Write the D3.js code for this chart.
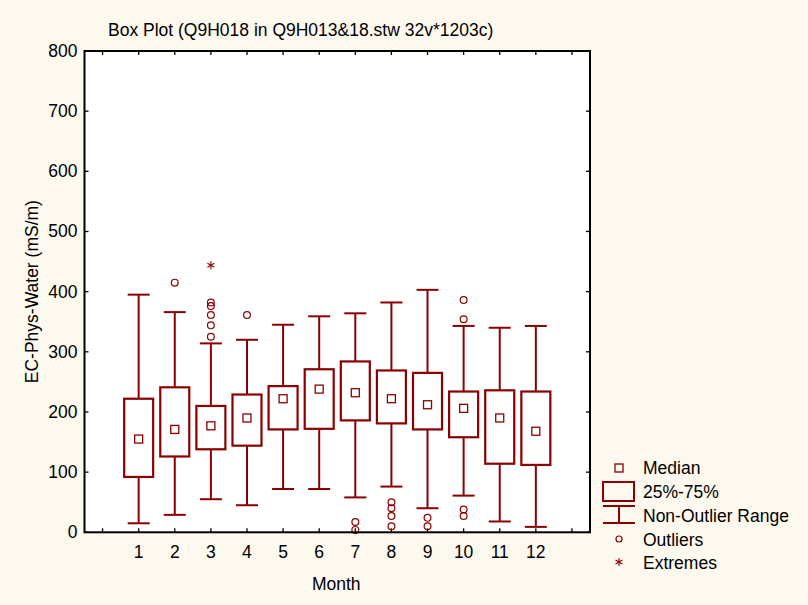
<!DOCTYPE html>
<html>
<head>
<meta charset="utf-8">
<script src="https://cdn.jsdelivr.net/npm/d3@7"></script>
<style>
  body { margin: 0; background: #fdf9ef; }
  svg { display: block; font-family: Arial, "Liberation Sans", sans-serif; }
</style>
</head>
<body>
<div class="content"></div>
<script>
// values
var months    = [1, 2, 3, 4, 5, 6, 7, 8, 9, 10, 11, 12];
var medians   = [155, 171, 177, 190, 222, 238, 232, 222, 212, 206, 190, 168];
var q1        = [92, 126, 138, 144, 171, 172, 186, 181, 171, 158, 114, 112];
var q3        = [222, 241, 210, 229, 243, 271, 284, 269, 265, 234, 236, 234];
var whiskLo   = [15, 29, 55, 45, 72, 72, 58, 76, 40, 61, 18, 9];
var whiskHi   = [395, 366, 314, 320, 345, 359, 364, 382, 403, 343, 340, 343];
var outliers  = [[], [415], [382, 376, 361, 344, 325], [361], [], [], [17, 4],
                 [50, 40, 27, 10], [24, 10], [386, 354, 38, 27], [], []];
var extremes  = [[], [], [444], [], [], [], [], [], [], [], [], []];
var yTicks    = [0, 100, 200, 300, 400, 500, 600, 700, 800];
var xTicks    = d3.range(0, 14);
var legendLabels = ["Median", "25%-75%", "Non-Outlier Range", "Outliers", "Extremes"];

var W = 808, H = 605;
var pL = 84.5, pR = 590, pT = 51, pB = 532.3;
var col = "#8b0000";
var fs = 17.5;

var svg = d3.select(".content").append("svg").attr("width", W).attr("height", H);
svg.append("rect").attr("width", W).attr("height", H).attr("fill", "#fdf9ef");

var x = d3.scaleLinear().domain([-0.5, 13.5]).range([pL, pR]);
var y = d3.scaleLinear().domain([0, 800]).range([pB, pT]);

svg.append("rect").attr("x", pL).attr("y", pT).attr("width", pR - pL).attr("height", pB - pT)
  .attr("fill", "#fff");

// ticks (inward, all four sides)
var tl = 4;
var ax = svg.append("g").attr("stroke", "#000").attr("stroke-width", 1.3);
yTicks.forEach(function(v) {
  ax.append("line").attr("x1", pL).attr("x2", pL + tl).attr("y1", y(v)).attr("y2", y(v));
  ax.append("line").attr("x1", pR - tl).attr("x2", pR).attr("y1", y(v)).attr("y2", y(v));
});
xTicks.forEach(function(v) {
  ax.append("line").attr("x1", x(v)).attr("x2", x(v)).attr("y1", pB).attr("y2", pB - tl);
  ax.append("line").attr("x1", x(v)).attr("x2", x(v)).attr("y1", pT).attr("y2", pT + tl);
});

svg.selectAll(".ylab").data(yTicks).enter().append("text")
  .attr("x", pL - 7).attr("y", function(d) { return y(d) + 6; })
  .attr("text-anchor", "end").attr("font-size", fs).attr("fill", "#000").text(function(d) { return d; });
svg.selectAll(".xlab").data(months).enter().append("text")
  .attr("x", function(d) { return x(d); }).attr("y", pB + 26)
  .attr("text-anchor", "middle").attr("font-size", fs).attr("fill", "#000").text(function(d) { return d; });

svg.append("text").attr("x", 108).attr("y", 36).attr("font-size", fs).text("Box Plot (Q9H018 in Q9H013&18.stw 32v*1203c)");
svg.append("text").attr("x", x(6.5) - 1).attr("y", 590).attr("text-anchor", "middle").attr("font-size", fs).text("Month");
svg.append("text").attr("transform", "translate(38," + y(400) + ") rotate(-90)")
  .attr("text-anchor", "middle").attr("font-size", fs).text("EC-Phys-Water (mS/m)");

// boxes
var bw = 29, cw = 22;
var g = svg.append("g").attr("stroke", col).attr("fill", "none");
months.forEach(function(m, i) {
  var cx = x(m);
  g.append("line").attr("x1", cx).attr("x2", cx).attr("y1", y(whiskHi[i])).attr("y2", y(q3[i])).attr("stroke-width", 2);
  g.append("line").attr("x1", cx).attr("x2", cx).attr("y1", y(q1[i])).attr("y2", y(whiskLo[i])).attr("stroke-width", 2);
  g.append("line").attr("x1", cx - cw / 2).attr("x2", cx + cw / 2).attr("y1", y(whiskHi[i])).attr("y2", y(whiskHi[i])).attr("stroke-width", 2);
  g.append("line").attr("x1", cx - cw / 2).attr("x2", cx + cw / 2).attr("y1", y(whiskLo[i])).attr("y2", y(whiskLo[i])).attr("stroke-width", 2);
  g.append("rect").attr("x", cx - bw / 2).attr("y", y(q3[i])).attr("width", bw).attr("height", y(q1[i]) - y(q3[i]))
    .attr("stroke-width", 2.2);
  g.append("rect").attr("x", cx - 4).attr("y", y(medians[i]) - 4).attr("width", 8).attr("height", 8).attr("stroke-width", 1.3);
  outliers[i].forEach(function(v) {
    g.append("circle").attr("cx", cx).attr("cy", y(v)).attr("r", 3.4).attr("stroke-width", 1.2);
  });
  extremes[i].forEach(function(v) {
    drawStar(g, cx, y(v));
  });
});

function drawStar(sel, cx, cy) {
  var r = 4;
  [0, 60, 120].forEach(function(a) {
    var rad = a * Math.PI / 180 + Math.PI / 2;
    sel.append("line").attr("x1", cx - r * Math.cos(rad)).attr("y1", cy - r * Math.sin(rad))
      .attr("x2", cx + r * Math.cos(rad)).attr("y2", cy + r * Math.sin(rad)).attr("stroke-width", 1.1).attr("stroke", col);
  });
}

// frame
svg.append("rect").attr("x", pL).attr("y", pT).attr("width", pR - pL).attr("height", pB - pT)
  .attr("fill", "none").attr("stroke", "#000").attr("stroke-width", 2);

// legend
var lg = svg.append("g").attr("stroke", col).attr("fill", "none");
var lx = 619, tx = 643;
lg.append("rect").attr("x", lx - 4).attr("y", 464).attr("width", 8).attr("height", 8).attr("stroke-width", 1.3);
lg.append("rect").attr("x", 603).attr("y", 482).attr("width", 31).attr("height", 19).attr("stroke-width", 2);
lg.append("line").attr("x1", 603).attr("x2", 635).attr("y1", 506).attr("y2", 506).attr("stroke-width", 2);
lg.append("line").attr("x1", lx).attr("x2", lx).attr("y1", 506).attr("y2", 523).attr("stroke-width", 2);
lg.append("line").attr("x1", 603).attr("x2", 635).attr("y1", 523).attr("y2", 523).attr("stroke-width", 2);
lg.append("circle").attr("cx", lx).attr("cy", 539).attr("r", 3).attr("stroke-width", 1.2);
drawStar(lg, lx, 562);
var ly = [474, 498, 522, 546, 569];
legendLabels.forEach(function(t, i) {
  svg.append("text").attr("x", tx).attr("y", ly[i]).attr("font-size", fs).attr("fill", "#000").text(t);
});
</script>
</body>
</html>
